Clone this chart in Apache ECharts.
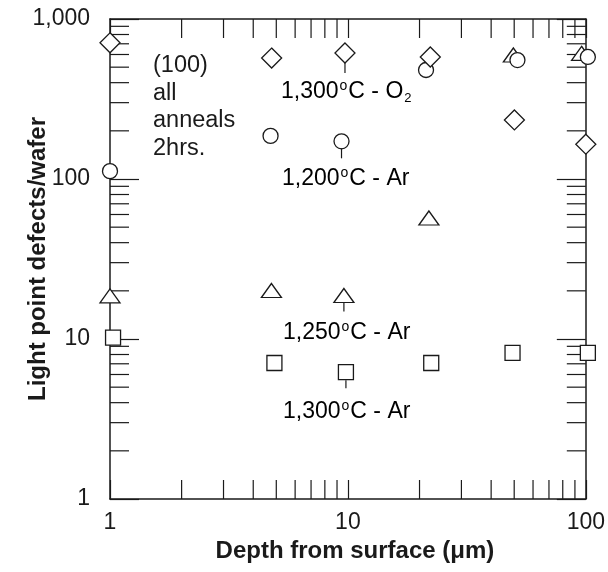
<!DOCTYPE html>
<html>
<head>
<meta charset="utf-8">
<script src="https://cdn.jsdelivr.net/npm/echarts@6/dist/echarts.min.js"></script>
<style>
  html, body { margin: 0; padding: 0; background: #fff; }
  #chart { width: 608px; height: 572px; }
</style>
</head>
<body>
<div id="chart"></div>
<script>
// data (depth in um, defects per wafer)
const o2_1300 = [[1, 710], [4.78, 570], [9.72, 613], [22.2, 579], [50.1, 234], [100, 165]];
const ar_1200 = [[1, 112], [4.73, 186], [9.4, 172], [21.3, 480], [51.6, 554], [102, 579]];
const ar_1250 = [[1, 18.6], [4.77, 20.1], [9.62, 18.7], [21.9, 57], [49.6, 596], [96, 610]];
const ar_1300 = [[1.03, 10.2], [4.91, 7.08], [9.81, 6.2], [22.4, 7.08], [49.2, 8.18], [102, 8.18]];

const xMinorTicks = [2, 3, 4, 5, 6, 7, 8, 9, 20, 30, 40, 50, 60, 70, 80, 90];
const yMinorTicks = [2, 3, 4, 5, 6, 7, 8, 9, 20, 30, 40, 50, 60, 70, 80, 90,
	200, 300, 400, 500, 600, 700, 800, 900];

const FONT = "'Liberation Sans', Arial, Helvetica, sans-serif";
const INK = "#1a1a1a";

var chartDom = document.getElementById("chart");
var myChart = echarts.init(chartDom, null, { renderer: "canvas" });

function axisBase(extra) {
	return Object.assign({
		type: "log",
		logBase: 10,
		splitLine: { show: false },
		axisLine: { show: true, onZero: false, lineStyle: { color: INK, width: 1.5 } },
		axisTick: { show: true, inside: true, lineStyle: { color: INK, width: 1.2 } },
		minorTick: { show: false },
		nameMoveOverlap: false,
	}, extra);
}

// minor tick marks (2..9 per decade) placed through the axis scales
function minorTickSeries(values, dir) {
	return {
		type: "custom",
		silent: true,
		z: 1,
		data: values.map((v) => (dir === "y" ? [1, v] : [v, 1])),
		renderItem: function (params, api) {
			const cs = params.coordSys;
			const p = api.coord([api.value(0), api.value(1)]);
			const style = { stroke: INK, lineWidth: 1.2 };
			if (dir === "y") {
				return {
					type: "group",
					children: [
						{ type: "line", shape: { x1: cs.x, y1: p[1], x2: cs.x + 19, y2: p[1] }, style: style },
						{ type: "line", shape: { x1: cs.x + cs.width, y1: p[1], x2: cs.x + cs.width - 19, y2: p[1] }, style: style },
					],
				};
			}
			return {
				type: "group",
				children: [
					{ type: "line", shape: { x1: p[0], y1: cs.y + cs.height, x2: p[0], y2: cs.y + cs.height - 19 }, style: style },
					{ type: "line", shape: { x1: p[0], y1: cs.y, x2: p[0], y2: cs.y + 19 }, style: style },
				],
			};
		},
	};
}

function markerSeries(name, data, symbol, size) {
	return {
		name: name,
		type: "scatter",
		data: data,
		symbol: symbol,
		symbolSize: size,
		clip: false,
		itemStyle: { color: "#fff", borderColor: INK, borderWidth: 1.3, opacity: 1 },
		emphasis: { disabled: true },
		z: 3,
	};
}

var option = {
	animation: false,
	backgroundColor: "#fff",
	textStyle: { fontFamily: FONT },
	grid: { left: 110, right: 18, top: 19, bottom: 73, containLabel: false },
	xAxis: [
		axisBase({
			min: 1, max: 100, position: "bottom",
			axisTick: { show: true, inside: true, length: 19, lineStyle: { color: INK, width: 1.2 } },
			axisLabel: { color: INK, fontSize: 23, fontFamily: FONT, margin: 12 },
			name: "Depth from surface (\u03bcm)",
			nameLocation: "middle",
			nameGap: 40,
			nameTextStyle: { color: INK, fontSize: 24, fontWeight: "bold", fontFamily: FONT, padding: [0, 0, 0, 14] },
		}),
		axisBase({
			min: 1, max: 100, position: "top",
			axisTick: { show: true, inside: true, length: 19, lineStyle: { color: INK, width: 1.2 } },
			axisLabel: { show: false },
		}),
	],
	yAxis: [
		axisBase({
			min: 1, max: 1000, position: "left",
			axisTick: { show: true, inside: true, length: 29, lineStyle: { color: INK, width: 1.2 } },
			axisLabel: {
				color: INK, fontSize: 23, fontFamily: FONT, margin: 20,
				formatter: (v) => Number(v).toLocaleString("en-US"),
			},
			name: "Light point defects/wafer",
			nameLocation: "middle",
			nameGap: 60,
			nameTextStyle: { color: INK, fontSize: 24, fontWeight: "bold", fontFamily: FONT },
		}),
		axisBase({
			min: 1, max: 1000, position: "right",
			axisTick: { show: true, inside: true, length: 29, lineStyle: { color: INK, width: 1.2 } },
			axisLabel: { show: false },
		}),
	],
	series: [
		minorTickSeries(yMinorTicks, "y"),
		minorTickSeries(xMinorTicks, "x"),
		markerSeries("1,300\u00b0C - Ar", ar_1300, "rect", 15),
		markerSeries("1,250\u00b0C - Ar", ar_1250, "triangle", [20, 14]),
		markerSeries("1,200\u00b0C - Ar", ar_1200, "circle", 15),
		markerSeries("1,300\u00b0C - O2", o2_1300, "diamond", 20),
	],
};
myChart.setOption(option);

// annotations with short leader lines from the marker at ~10 um
const rich = {
	n: { fontSize: 23, fontFamily: FONT, color: INK, lineHeight: 26 },
	sup: { fontSize: 14, fontFamily: FONT, color: INK, verticalAlign: "top", lineHeight: 26, padding: [0, 1, 15, 1] },
	sub: { fontSize: 13, fontFamily: FONT, color: INK, verticalAlign: "bottom", lineHeight: 26, padding: [8, 0, 0, 1] },
};

function label(text, x, y) {
	return { type: "text", left: x, top: y, z: 10, style: { text: text, rich: rich } };
}

function leader(pt, from, len) {
	const p = myChart.convertToPixel({ gridIndex: 0 }, pt);
	return {
		type: "line", z: 10,
		shape: { x1: p[0], y1: p[1] + from, x2: p[0], y2: p[1] + from + len },
		style: { stroke: INK, lineWidth: 1.2 },
	};
}

myChart.setOption({
	graphic: [
		{
			type: "text", left: 153, top: 52, z: 10,
			style: { text: "(100)\nall\nanneals\n2hrs.", font: "23.5px " + FONT, fill: INK, lineHeight: 27.5 },
		},
		label("{n|1,300}{sup|o}{n|C - O}{sub|2}", 281, 79),
		label("{n|1,200}{sup|o}{n|C - Ar}", 282, 166),
		label("{n|1,250}{sup|o}{n|C - Ar}", 283, 320),
		label("{n|1,300}{sup|o}{n|C - Ar}", 283, 399),
		leader(o2_1300[2], 10, 10),
		leader(ar_1200[2], 7, 10),
		leader(ar_1250[2], 7, 9),
		leader(ar_1300[2], 8, 8),
	],
});

window.addEventListener("resize", function () {
	myChart.resize();
});
</script>
</body>
</html>
